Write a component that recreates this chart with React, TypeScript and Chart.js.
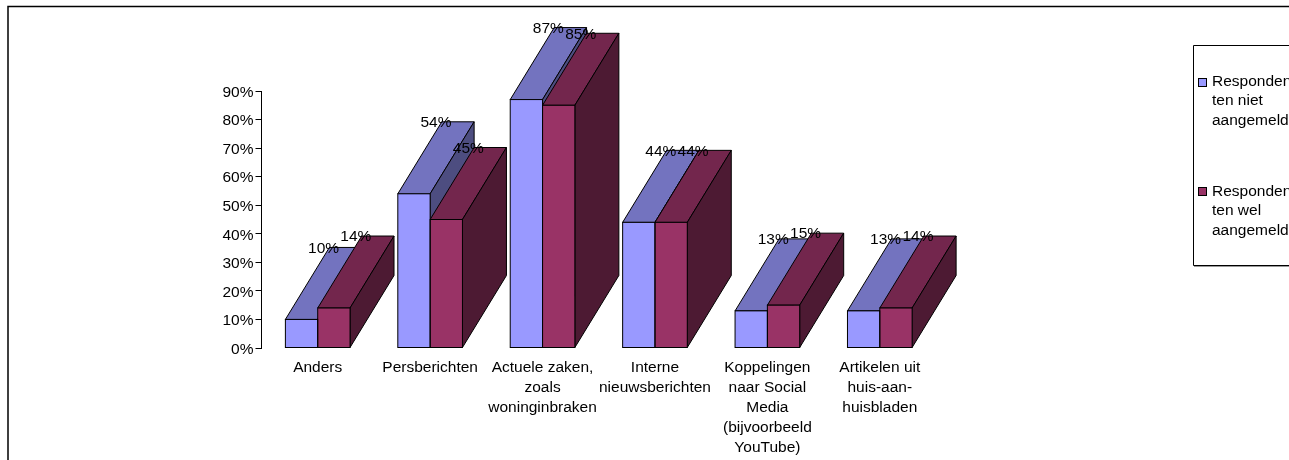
import React, { useEffect, useRef } from "react";
import { Chart, registerables } from "chart.js";

Chart.register(...registerables);

const categories: string[][] = [
  ["Anders"],
  ["Persberichten"],
  ["Actuele zaken,", "zoals", "woninginbraken"],
  ["Interne", "nieuwsberichten"],
  ["Koppelingen", "naar Social", "Media", "(bijvoorbeeld", "YouTube)"],
  ["Artikelen uit", "huis-aan-", "huisbladen"],
];
const nietAangemeld = [10, 54, 87, 44, 13, 13];
const welAangemeld = [14, 45, 85, 44, 15, 14];
const legendNiet = ["Responden", "ten niet", "aangemeld"];
const legendWel = ["Responden", "ten wel", "aangemeld"];

const FONT = '15.5px "Liberation Sans", Arial, sans-serif';
const DX = 44;
const DY = 72;
const palette = [
  { front: "#9999FF", top: "#7373BF", side: "#4D4D80" },
  { front: "#993366", top: "#73264D", side: "#4D1A33" },
];

const poly = (ctx: CanvasRenderingContext2D, pts: number[][], fill: string) => {
  ctx.beginPath();
  pts.forEach(([x, y], i) => (i ? ctx.lineTo(x, y) : ctx.moveTo(x, y)));
  ctx.closePath();
  ctx.fillStyle = fill;
  ctx.fill();
  ctx.lineWidth = 1;
  ctx.strokeStyle = "#000";
  ctx.stroke();
};

const frame3d = {
  id: "frame3d",
  beforeDraw(chart: any) {
    const ctx: CanvasRenderingContext2D = chart.ctx;
    ctx.save();
    ctx.strokeStyle = "#000";
    ctx.lineWidth = 1.5;
    ctx.beginPath();
    ctx.moveTo(8, 460);
    ctx.lineTo(8, 6.5);
    ctx.lineTo(1289, 6.5);
    ctx.stroke();

    // legend box
    ctx.strokeStyle = "#999";
    ctx.lineWidth = 1;
    ctx.beginPath();
    ctx.moveTo(1194, 266.5);
    ctx.lineTo(1289, 266.5);
    ctx.stroke();
    ctx.strokeStyle = "#000";
    ctx.beginPath();
    ctx.moveTo(1289, 45.5);
    ctx.lineTo(1193.5, 45.5);
    ctx.lineTo(1193.5, 265.5);
    ctx.lineTo(1289, 265.5);
    ctx.stroke();

    const items = [
      { lines: legendNiet, color: palette[0].front, my: 78.5, ty: 81.5 },
      { lines: legendWel, color: palette[1].front, my: 187.5, ty: 191.5 },
    ];
    ctx.font = FONT;
    ctx.textAlign = "left";
    ctx.textBaseline = "middle";
    items.forEach((it) => {
      ctx.fillStyle = it.color;
      ctx.strokeStyle = "#000";
      ctx.fillRect(1198.5, it.my, 8, 8);
      ctx.strokeRect(1198.5, it.my, 8, 8);
      ctx.fillStyle = "#000";
      it.lines.forEach((l, i) => ctx.fillText(l, 1212, it.ty + i * 19.5));
    });

    // value-axis labels sit slightly under their tick marks
    const y = chart.scales.y;
    ctx.textAlign = "right";
    y.ticks.forEach((t: any) => {
      ctx.fillText(`${t.value}%`, 253.5, y.getPixelForValue(t.value) + 1.5);
    });
    ctx.restore();
  },
  beforeDatasetsDraw(chart: any) {
    const ctx: CanvasRenderingContext2D = chart.ctx;
    ctx.save();
    chart.data.datasets.forEach((_: any, d: number) => {
      chart.getDatasetMeta(d).data.forEach((bar: any) => {
        const l = bar.x - bar.width / 2;
        const r = bar.x + bar.width / 2;
        poly(ctx, [[l, bar.y], [l + DX, bar.y - DY], [r + DX, bar.y - DY], [r, bar.y]], palette[d].top);
        poly(ctx, [[r, bar.y], [r + DX, bar.y - DY], [r + DX, bar.base - DY], [r, bar.base]], palette[d].side);
      });
    });
    ctx.restore();
  },
  afterDatasetsDraw(chart: any) {
    const ctx: CanvasRenderingContext2D = chart.ctx;
    ctx.save();
    // crisp outline round every front face
    ctx.strokeStyle = "#000";
    ctx.lineWidth = 1;
    chart.data.datasets.forEach((_: any, d: number) => {
      chart.getDatasetMeta(d).data.forEach((bar: any) => {
        ctx.strokeRect(bar.x - bar.width / 2, bar.y, bar.width, bar.base - bar.y);
      });
    });
    ctx.font = FONT;
    ctx.fillStyle = "#000";
    ctx.textAlign = "center";
    ctx.textBaseline = "middle";
    chart.data.datasets.forEach((ds: any, d: number) => {
      chart.getDatasetMeta(d).data.forEach((bar: any, i: number) => {
        ctx.fillText(`${ds.data[i]}%`, bar.x + DX / 2, bar.y - DY + 1);
      });
    });
    ctx.restore();
  },
};

export default function App() {
  const ref = useRef<HTMLCanvasElement>(null);
  useEffect(() => {
    if (!ref.current) return;
    const font = { family: '"Liberation Sans", Arial, sans-serif', size: 15.5 };
    const chart = new Chart(ref.current, {
      type: "bar",
      data: {
        labels: categories as any,
        datasets: [
          {
            label: "Respondenten niet aangemeld",
            data: nietAangemeld,
            backgroundColor: palette[0].front,
            borderWidth: 0,
          },
          {
            label: "Respondenten wel aangemeld",
            data: welAangemeld,
            backgroundColor: palette[1].front,
            borderWidth: 0,
          },
        ],
      },
      plugins: [frame3d as any],
      options: {
        responsive: false,
        animation: false,
        layout: { padding: { left: 191, right: 353, top: 91, bottom: 0 } },
        datasets: { bar: { categoryPercentage: 0.575, barPercentage: 1 } },
        plugins: { legend: { display: false }, tooltip: { enabled: false }, title: { display: false } },
        scales: {
          x: {
            grid: { display: false },
            border: { display: false },
            afterFit: (s: any) => {
              s.height = 112;
            },
            ticks: {
              color: "#000",
              font: { ...font, lineHeight: 20 / 15.5 },
              maxRotation: 0,
              minRotation: 0,
              autoSkip: false,
              padding: 2,
            },
          },
          y: {
            min: 0,
            max: 90,
            afterFit: (s: any) => {
              s.width = 70.5;
            },
            grid: { drawOnChartArea: false, drawTicks: true, tickLength: 6, color: "#000" },
            border: { display: true, color: "#000" },
            ticks: {
              display: false,
              stepSize: 10,
            },
          },
        },
      },
    });
    return () => chart.destroy();
  }, []);
  return (
    <canvas
      ref={ref}
      width={1289}
      height={460}
      style={{ position: "absolute", left: 0, top: 0, width: 1289, height: 460, display: "block" }}
    />
  );
}
